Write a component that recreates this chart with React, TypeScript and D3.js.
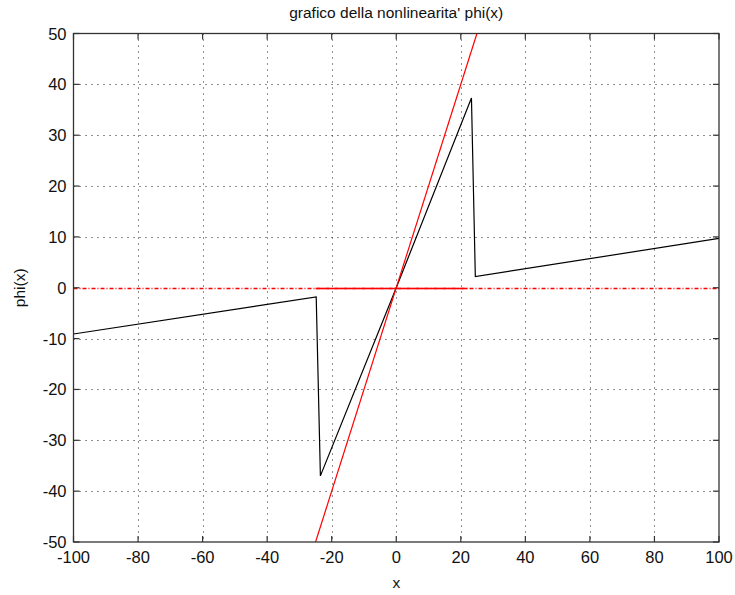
import React from "react";
import * as d3 from "d3";

const phiX = [-100, -24.8, -23.5, 0, 23.3, 24.5, 100];
const phiY = [-9.1, -1.8, -37.0, 0, 37.3, 2.2, 9.7];
const redX = [-25, 25];
const redY = [-50, 50];
const zeroSolidX = [-25, 22];
const zeroDashX = [-100, 100];
const xTicks = [-100, -80, -60, -40, -20, 0, 20, 40, 60, 80, 100];
const yTicks = [-50, -40, -30, -20, -10, 0, 10, 20, 30, 40, 50];

const W = 735, H = 595;
const L = 73.5, R = 719, T = 33.5, B = 542;

export default function App() {
  const x = d3.scaleLinear().domain([-100, 100]).range([L, R]);
  const y = d3.scaleLinear().domain([-50, 50]).range([B, T]);
  const line = d3.line<[number, number]>().x(d => x(d[0])).y(d => y(d[1]));
  const phiPts: [number, number][] = phiX.map((v, i) => [v, phiY[i]]);
  const redPts: [number, number][] = redX.map((v, i) => [v, redY[i]]);
  const font = "'Liberation Sans', Arial, Helvetica, sans-serif";
  const axisColor = "#333";
  const tick = 6;
  const y0 = Math.round(y(0)) + 0.5;
  return (
    <svg width={W} height={H} style={{ position: "absolute", left: 0, top: 0, background: "#fff" }} fontFamily={font}>
      <rect x={0} y={0} width={W} height={H} fill="#fff" />
      <defs>
        <clipPath id="pa">
          <rect x={L} y={T} width={R - L} height={B - T} />
        </clipPath>
      </defs>
      {/* grid */}
      {xTicks.slice(1, -1).map(t => (
        <line key={"gx" + t} x1={Math.round(x(t)) + 0.5} x2={Math.round(x(t)) + 0.5} y1={T} y2={B}
          stroke="#222" strokeWidth={1} strokeDasharray="1,5" />
      ))}
      {yTicks.slice(1, -1).filter(t => t !== 0).map(t => (
        <line key={"gy" + t} y1={Math.round(y(t)) + 0.5} y2={Math.round(y(t)) + 0.5} x1={L} x2={R}
          stroke="#222" strokeWidth={1} strokeDasharray="1,5" />
      ))}
      <g clipPath="url(#pa)">
        <line x1={x(zeroDashX[0])} x2={x(zeroDashX[1])} y1={y0} y2={y0} stroke="#ff0000" strokeWidth={1.5} strokeDasharray="4,2,1,2" />
        <line x1={x(zeroSolidX[0])} x2={x(zeroSolidX[1])} y1={y0} y2={y0} stroke="#ff0000" strokeWidth={1.5} />
        <path d={line(phiPts) || ""} fill="none" stroke="#000" strokeWidth={1.2} />
        <path d={line(redPts) || ""} fill="none" stroke="#ff0000" strokeWidth={1.2} />
      </g>
      {/* box */}
      <rect x={L} y={T} width={R - L} height={B - T} fill="none" stroke={axisColor} strokeWidth={1.3} />
      {xTicks.map(t => (
        <g key={"tx" + t}>
          <line x1={x(t)} x2={x(t)} y1={B} y2={B - tick} stroke={axisColor} strokeWidth={1.2} />
          <line x1={x(t)} x2={x(t)} y1={T} y2={T + tick} stroke={axisColor} strokeWidth={1.2} />
          <text x={x(t)} y={B + 21} textAnchor="middle" fontSize={16.5} fill="#111">{t}</text>
        </g>
      ))}
      {yTicks.map(t => (
        <g key={"ty" + t}>
          <line x1={L} x2={L + tick} y1={y(t)} y2={y(t)} stroke={axisColor} strokeWidth={1.2} />
          <line x1={R} x2={R - tick} y1={y(t)} y2={y(t)} stroke={axisColor} strokeWidth={1.2} />
          <text x={L - 7} y={y(t) + 6} textAnchor="end" fontSize={16.5} fill="#111">{t}</text>
        </g>
      ))}
      <text x={(L + R) / 2} y={18} textAnchor="middle" fontSize={15.5} fill="#111">grafico della nonlinearita' phi(x)</text>
      <text x={(L + R) / 2} y={588} textAnchor="middle" fontSize={15.5} fill="#111">x</text>
      <text transform={`translate(25,${(T + B) / 2}) rotate(-90)`} textAnchor="middle" fontSize={15.5} fill="#111">phi(x)</text>
    </svg>
  );
}
